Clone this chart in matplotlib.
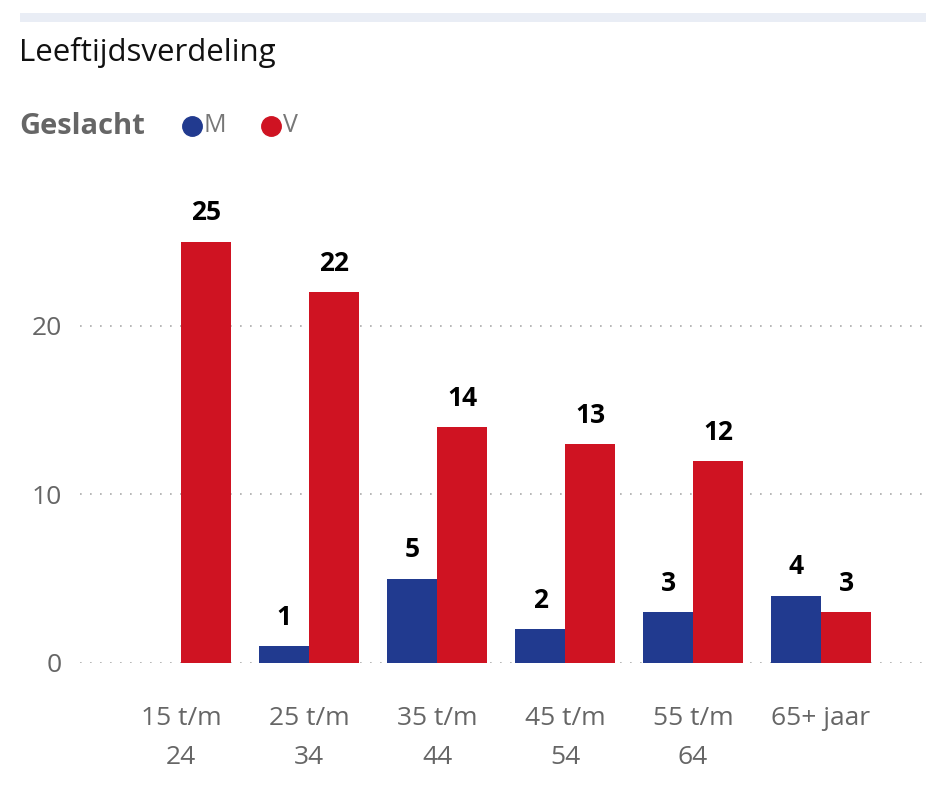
import matplotlib
matplotlib.use("Agg")
import matplotlib.pyplot as plt
from matplotlib.lines import Line2D
from matplotlib.patches import Rectangle
import numpy as np

plt.rcParams['font.family'] = ['Open Sans', 'DejaVu Sans']

# data
categories = ["15 t/m\n24", "25 t/m\n34", "35 t/m\n44", "45 t/m\n54", "55 t/m\n64", "65+ jaar"]
men = [0, 1, 5, 2, 3, 4]
women = [25, 22, 14, 13, 12, 3]
series_names = ["M", "V"]
yticks = [0, 10, 20]

blue = "#213a8f"
red = "#cf1322"
gray = "#666666"

W, H = 926, 793
fig = plt.figure(figsize=(W / 100, H / 100), dpi=100)

# light band along the top
fig.add_artist(Rectangle((20 / W, 1 - 22 / H), 1, 9 / H, transform=fig.transFigure,
                         color="#e9edf5", lw=0))

fig.text(19 / W, 1 - 52 / H, "Leeftijdsverdeling", fontsize=22.5, color="#111111",
         va="center", ha="left")

# legend drawn by hand
fig.text(19 / W, 1 - 126 / H, "Geslacht", fontsize=21, fontweight="bold", color=gray,
         va="center", ha="left")
for xpos, name, col in [(192, series_names[0], blue), (271, series_names[1], red)]:
    fig.add_artist(Line2D([xpos / W], [1 - 126 / H], marker="o", markersize=14,
                          color=col, transform=fig.transFigure))
    fig.text((xpos + 12) / W, 1 - 126 / H, name, fontsize=18, color="#777777",
             va="center", ha="left")

ax = fig.add_axes([80 / W, (H - 663) / H, (W - 80) / W, 455 / H])

x = np.arange(len(categories))
bw = 0.39
b1 = ax.bar(x - bw / 2, men, bw, color=blue)
b2 = ax.bar(x + bw / 2, women, bw, color=red)

for bars, vals in [(b1, men), (b2, women)]:
    labels = [str(v) if v > 0 else "" for v in vals]
    ax.bar_label(bars, labels=labels, padding=11, fontsize=19, fontweight="bold",
                 color="black")

ax.set_xlim(-0.79, 5.82)
ax.set_ylim(0, 27)
ax.set_yticks(yticks)
ax.set_yticklabels([str(t) for t in yticks], fontsize=19, color=gray)
ax.set_xticks(x)
ax.set_xticklabels(categories, fontsize=19, color=gray, linespacing=1.75)
ax.tick_params(length=0, axis="y", pad=13)
ax.tick_params(length=0, axis="x", pad=31)
ax.yaxis.grid(True, linestyle=(0, (1, 5)), color="#aaaaaa", lw=1.2)
ax.set_axisbelow(True)
for s in ax.spines.values():
    s.set_visible(False)

fig.savefig("out.png", dpi=100)
